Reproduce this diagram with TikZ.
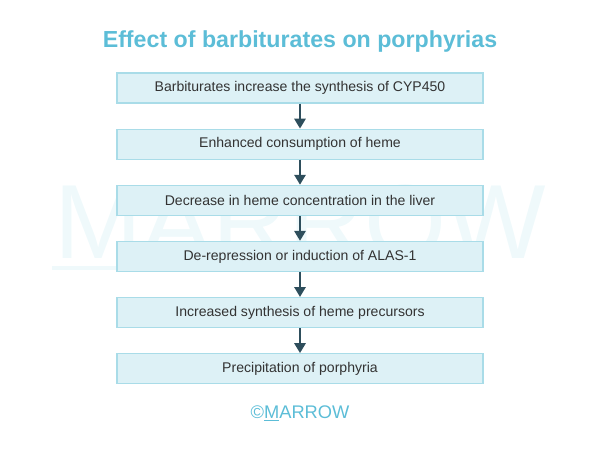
\documentclass[tikz,border=0pt]{standalone}
\usepackage{fontspec}
\setmainfont{Liberation Sans}
\usetikzlibrary{positioning,arrows.meta}
\definecolor{boxfill}{HTML}{DDF1F6}
\definecolor{boxline}{HTML}{A9DCE8}
\definecolor{arrowcol}{HTML}{2E4E5C}
\definecolor{titlecol}{HTML}{5CBDD7}
\definecolor{markcol}{HTML}{EFF9FB}
\begin{document}
\begin{tikzpicture}[>={Triangle[width=8pt,length=7pt]},
    stepbox/.style={draw=boxline, line width=0.8pt, fill=boxfill, minimum width=9.15cm,
        minimum height=0.75cm, font=\fontsize{10}{12}\selectfont, text=black!80},
    flow/.style={->, line width=1.4pt, arrowcol},
    node distance=0.625cm]
    \useasboundingbox (0,0) rectangle (15,11.25);

    % --- Watermark ---
    \node[text=markcol, font=\fontsize{75}{75}\selectfont] (mark) at (7.5,5.7) {MARROW};
    \fill[markcol] (1.3,4.5) rectangle (3.3,4.6);

    % --- Titolo ---
    \node[text=titlecol, font=\fontsize{16.5}{18}\selectfont\bfseries] (title) at (7.5,10.22)
        {Effect of barbiturates on porphyrias};

    % --- Passi ---
    \node[stepbox] (s1) at (7.5,9.05) {Barbiturates increase the synthesis of CYP450};
    \node[stepbox, below=of s1] (s2) {Enhanced consumption of heme};
    \node[stepbox, below=of s2] (s3) {Decrease in heme concentration in the liver};
    \node[stepbox, below=of s3] (s4) {De-repression or induction of ALAS-1};
    \node[stepbox, below=of s4] (s5) {Increased synthesis of heme precursors};
    \node[stepbox, below=of s5] (s6) {Precipitation of porphyria};

    \foreach \a/\b in {s1/s2,s2/s3,s3/s4,s4/s5,s5/s6}
        \draw[flow] (\a) -- (\b);

    % --- Copyright ---
    \node[text=titlecol, font=\fontsize{13}{15}\selectfont] (copy) at (7.5,0.92)
        {\textcopyright\underline{M}ARROW};
\end{tikzpicture}
\end{document}
